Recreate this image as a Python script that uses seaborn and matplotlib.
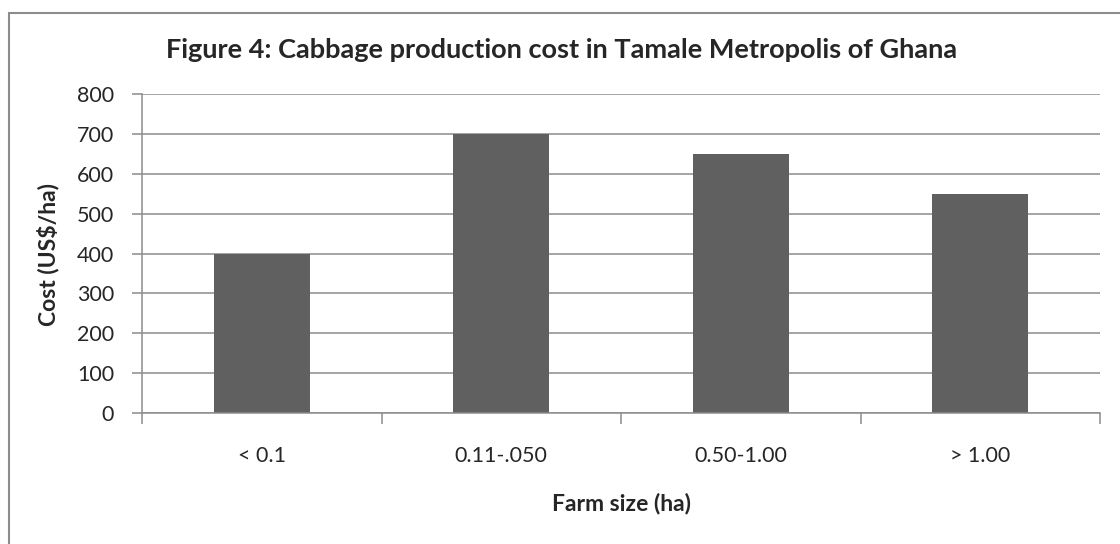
import matplotlib
matplotlib.use("Agg")
import matplotlib.pyplot as plt
import seaborn as sns
import pandas as pd
from matplotlib.lines import Line2D
from matplotlib.ticker import FixedLocator

categories = ["< 0.1", "0.11-.050", "0.50-1.00", "> 1.00"]
costs = [400, 700, 650, 550]
yticks = [0, 100, 200, 300, 400, 500, 600, 700, 800]

title = "Figure 4: Cabbage production cost in Tamale Metropolis of Ghana"
xlabel = "Farm size (ha)"
ylabel = "Cost (US$/ha)"

sns.set_style("white")
plt.rcParams["font.family"] = ["Lato", "DejaVu Sans"]

df = pd.DataFrame({"size": categories, "cost": costs})

fig = plt.figure(figsize=(11.2, 5.44), dpi=100)
ax = fig.add_axes([142/1120, 1-413/544, (1100-142)/1120, (413-94)/544])

grid_c = "#8c8c8c"
sns.barplot(data=df, x="size", y="cost", color="#606060", width=0.4,
            saturation=1, ax=ax, zorder=3, edgecolor="none")

ax.set_ylim(0, 800)
ax.set_xlim(-0.5, 3.5)
ax.set_yticks(yticks)
ax.yaxis.grid(True, color=grid_c, linewidth=1.1, zorder=0)
ax.set_axisbelow(True)
for s in ["top", "right"]:
    ax.spines[s].set_visible(False)
for s in ["left", "bottom"]:
    ax.spines[s].set_color(grid_c)
    ax.spines[s].set_linewidth(1.1)
    ax.spines[s].set_zorder(4)

ax.tick_params(axis="y", length=7, width=1.1, color=grid_c, labelsize=15.5, pad=13, left=True)
ax.tick_params(axis="x", which="major", length=0, labelsize=15.5, pad=24)
ax.xaxis.set_minor_locator(FixedLocator([-0.5, 0.5, 1.5, 2.5, 3.5]))
ax.tick_params(axis="x", which="minor", length=8, width=1.1, color=grid_c, bottom=True)

ax.set_xlabel("")
ax.set_ylabel("")
fig.text(562/1120, 1-50/544, title, ha="center", va="center", fontsize=19.5, fontweight="bold")
fig.text(621/1120, 1-503/544, xlabel, ha="center", va="center", fontsize=16.5, fontweight="bold")
fig.text(48/1120, 1-254/544, ylabel, ha="center", va="center", fontsize=16.5, fontweight="bold", rotation=90)

# chart-area border (left and top edges visible)
fig.add_artist(Line2D([8.5/1120, 8.5/1120], [0, 1-13/544], transform=fig.transFigure, color=grid_c, linewidth=1.5))
fig.add_artist(Line2D([8.5/1120, 1], [1-13/544, 1-13/544], transform=fig.transFigure, color=grid_c, linewidth=1.5))

fig.savefig("out.png", dpi=100, facecolor="white")
